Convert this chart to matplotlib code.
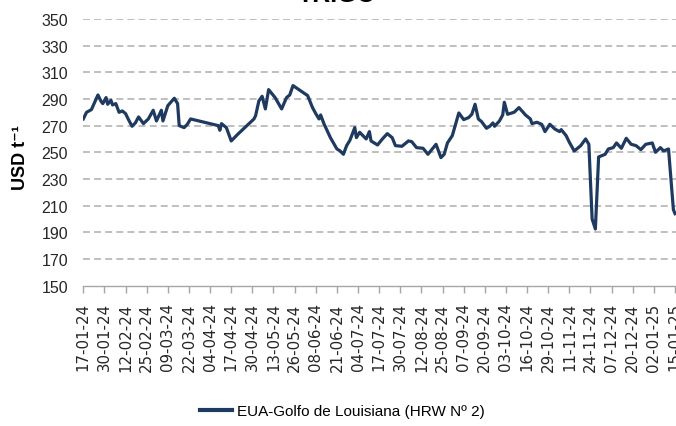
import numpy as np
import pandas as pd
import matplotlib
matplotlib.use("Agg")
import matplotlib.pyplot as plt
import matplotlib.dates as mdates

# EUA-Golfo de Louisiana (HRW Nº 2), USD/t
dates = [
    "2024-01-17", "2024-01-19", "2024-01-22", "2024-01-26", "2024-01-28", "2024-01-29",
    "2024-01-31", "2024-02-01", "2024-02-03", "2024-02-04", "2024-02-06", "2024-02-08",
    "2024-02-10", "2024-02-12", "2024-02-14", "2024-02-16", "2024-02-18", "2024-02-20",
    "2024-02-23", "2024-02-26", "2024-02-29", "2024-03-02", "2024-03-05", "2024-03-06",
    "2024-03-09", "2024-03-13", "2024-03-15", "2024-03-16", "2024-03-19", "2024-03-21",
    "2024-03-23", "2024-04-09", "2024-04-10", "2024-04-11", "2024-04-14", "2024-04-17",
    "2024-04-21", "2024-05-01", "2024-05-02", "2024-05-04", "2024-05-06", "2024-05-08",
    "2024-05-10", "2024-05-14", "2024-05-18", "2024-05-21", "2024-05-23", "2024-05-25",
    "2024-06-03", "2024-06-06", "2024-06-08", "2024-06-10", "2024-06-11", "2024-06-13",
    "2024-06-17", "2024-06-21", "2024-06-23", "2024-06-25", "2024-06-27", "2024-06-29",
    "2024-07-02", "2024-07-03", "2024-07-05", "2024-07-07", "2024-07-09", "2024-07-11",
    "2024-07-12", "2024-07-16", "2024-07-19", "2024-07-22", "2024-07-25", "2024-07-27",
    "2024-07-31", "2024-08-04", "2024-08-06", "2024-08-09", "2024-08-13", "2024-08-16",
    "2024-08-21", "2024-08-24", "2024-08-26", "2024-08-28", "2024-08-31", "2024-09-04",
    "2024-09-07", "2024-09-10", "2024-09-12", "2024-09-14", "2024-09-16", "2024-09-18",
    "2024-09-21", "2024-09-23", "2024-09-25", "2024-09-26", "2024-09-29", "2024-10-01",
    "2024-10-02", "2024-10-04", "2024-10-08", "2024-10-11", "2024-10-15", "2024-10-18",
    "2024-10-19", "2024-10-22", "2024-10-25", "2024-10-27", "2024-10-30", "2024-11-02",
    "2024-11-05", "2024-11-06", "2024-11-09", "2024-11-11", "2024-11-14", "2024-11-18",
    "2024-11-21", "2024-11-23", "2024-11-25", "2024-11-27", "2024-11-29", "2024-12-03",
    "2024-12-05", "2024-12-08", "2024-12-10", "2024-12-13", "2024-12-16", "2024-12-19",
    "2024-12-22", "2024-12-25", "2024-12-28", "2025-01-01", "2025-01-03", "2025-01-06",
    "2025-01-08", "2025-01-11", "2025-01-14", "2025-01-15",
]
precos = [
    275, 280, 282, 293, 288, 286.5,
    291, 286, 289, 285.5, 286.5, 280,
    281, 279, 274, 269.5, 272, 276.5,
    271.5, 275, 281.5, 273.5, 281.5, 273.5,
    285, 290.5, 286.5, 270, 268.5, 271,
    275, 270, 266.5, 271.5, 268.5, 258.5,
    263.5, 275, 277.5, 288.5, 292, 282.5,
    297, 291, 282.5, 291, 293, 300,
    292.5, 283.5, 279, 275, 278, 271.5,
    261, 252.5, 251, 248.5, 255, 259,
    268.5, 261, 265, 262.5, 260, 265.5,
    258.5, 255.5, 260, 264, 261, 255,
    254.5, 258.5, 258, 253.5, 253, 248.5,
    256, 246, 248.5, 257, 262.5, 279.5,
    274.5, 276, 278.5, 286, 275, 273,
    268, 269.5, 272, 269.5, 273.5, 278,
    287.5, 278.5, 280, 283.5, 278, 275,
    271.5, 272.5, 271, 265.5, 271, 267.5,
    265.5, 267, 262.5, 257.5, 251, 255,
    260, 256, 200, 192.5, 246.5, 248.5,
    252.5, 253.5, 257, 253, 260.5, 256,
    255, 252, 256, 257, 250, 253.5,
    251, 252.5, 207, 204,
]
serie = "EUA-Golfo de Louisiana (HRW Nº 2)"
y_ticks = list(range(150, 351, 20))
x_ticks = pd.date_range("2024-01-17", "2025-01-15", freq="13D")

sans = ["Liberation Sans", "DejaVu Sans"]
cor = "#1f3a60"

fig = plt.figure(figsize=(6.76, 4.27), dpi=100)
ax = fig.add_axes([83.3 / 676, 0.3286, 1 - 83.3 / 676, 0.6248])

x = pd.to_datetime(dates)
ax.plot(x, precos, color=cor, lw=2.3, solid_joinstyle="round", label=serie, zorder=3)

ax.set_ylim(150, 350)
ax.set_yticks(y_ticks)
ax.set_xlim(pd.Timestamp("2024-01-17"), pd.Timestamp("2024-01-17") + pd.Timedelta(days=364.6))
ax.set_xticks(x_ticks)
ax.xaxis.set_major_formatter(mdates.DateFormatter("%d-%m-%y"))

# dashed horizontal grid
for v in y_ticks[1:]:
    ax.axhline(v, color="#bfbfbf", lw=1.4, dashes=(5 / 1.4, 3 / 1.4), zorder=1)

for s in ["left", "right", "top"]:
    ax.spines[s].set_visible(False)
ax.spines["bottom"].set_color("#a6a6a6")
ax.spines["bottom"].set_linewidth(1.0)

ax.tick_params(axis="y", length=0, pad=11, labelsize=11.5)
ax.tick_params(axis="x", length=5, width=1, color="#a6a6a6", pad=7, labelsize=10.8, rotation=90)
for lab in ax.get_yticklabels():
    lab.set_family(sans)
    lab.set_color("#262626")
for lab in ax.get_xticklabels():
    lab.set_family(["DejaVu Sans"])
    lab.set_color("#262626")

ax.set_ylabel("USD t⁻¹", fontsize=13, fontweight="bold", family=sans)
ax.yaxis.set_label_coords(-0.092, 0.485)

fig.text(0.499, (427 - 1.5) / 427, "TRIGO", fontsize=18, fontweight="bold",
         family=sans, ha="center", va="baseline")

leg = fig.legend(loc="center", bbox_to_anchor=(0.5067, 0.035), frameon=False,
                 handlelength=2.1, handletextpad=0.3,
                 prop={"family": sans, "size": 11})
for h in leg.get_lines():
    h.set_linewidth(3)

fig.savefig("out.png", dpi=100)
